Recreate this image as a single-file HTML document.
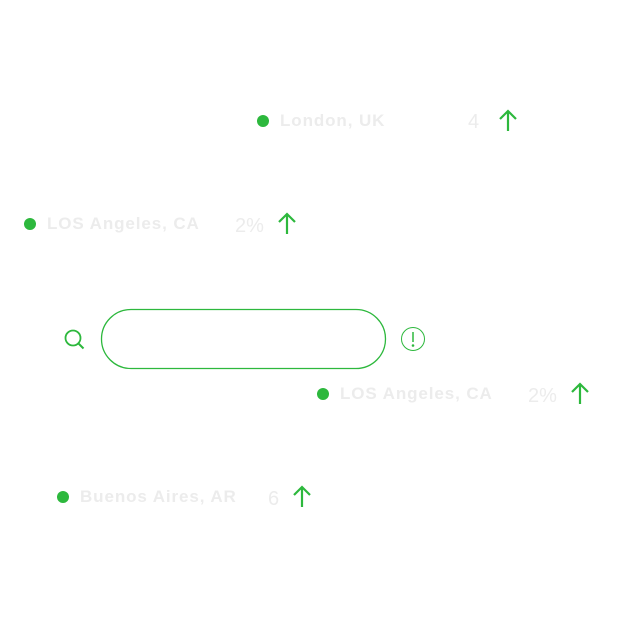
<!DOCTYPE html>
<html><head><style>
body{margin:0;width:618px;height:618px;background:#fff;position:relative;overflow:hidden;font-family:"Liberation Sans",sans-serif}
.dot{position:absolute;width:12px;height:12px;border-radius:50%;background:#2db83d}
.t{position:absolute;color:#ececec;font-weight:bold;font-size:17px;line-height:20px;letter-spacing:0.9px}
.n{position:absolute;color:#ececec;font-size:20px;line-height:22px}
svg.a{position:absolute}
</style></head><body>
<div class="dot" style="left:257px;top:115px"></div><div class="t" style="left:280px;top:111px">London, UK</div><div class="n" style="left:468px;top:111px">4</div>
<div class="dot" style="left:24px;top:218px"></div><div class="t" style="left:47px;top:214px">LOS Angeles, CA</div><div class="n" style="left:235px;top:215px">2%</div>
<div class="dot" style="left:317px;top:388px"></div><div class="t" style="left:340px;top:384px">LOS Angeles, CA</div><div class="n" style="left:528px;top:385px">2%</div>
<div class="dot" style="left:57px;top:491px"></div><div class="t" style="left:80px;top:487px">Buenos Aires, AR</div><div class="n" style="left:268px;top:488px">6</div>
<svg class="a" width="618" height="618" style="left:0;top:0" fill="none" stroke="#2db83d" stroke-width="2.2">
<g><path d="M508 131V112M500 119l8-8 8 8"/></g>
<g><path d="M287 234V215M279 222l8-8 8 8"/></g>
<g><path d="M580 404V385M572 392l8-8 8 8"/></g>
<g><path d="M302 507V488M294 495l8-8 8 8"/></g>
<rect x="101.5" y="309.5" width="284" height="59" rx="29.5" stroke-width="1.3"/>
<circle cx="73" cy="338" r="7.5" stroke-width="1.8"/><path d="M78.5 343.5l5 5" stroke-width="2"/>
<circle cx="413" cy="339" r="11.5" stroke-width="1"/><path d="M413 332v10" stroke-width="1.5"/><circle cx="413" cy="345.5" r="0.8" fill="#2db83d" stroke-width="1"/>
</svg>
</body></html>
